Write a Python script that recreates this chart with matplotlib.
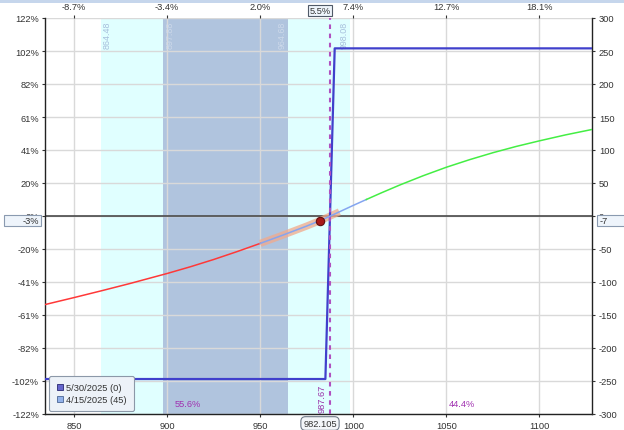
import matplotlib
matplotlib.use('Agg')
import matplotlib.pyplot as plt
import matplotlib.transforms as mtransforms
from matplotlib.patches import Rectangle
from matplotlib.lines import Line2D
import numpy as np

plt.rcParams['font.family'] = ['Liberation Sans', 'DejaVu Sans']

# ---------------- data ----------------
x_ticks = [850, 900, 950, 1000, 1050, 1100]
top_tick_labels = ['-8.7%', '-3.4%', '2.0%', '7.4%', '12.7%', '18.1%']
pnl_ticks = [300, 250, 200, 150, 100, 50, 0, -50, -100, -150, -200, -250, -300]
pct_tick_labels = ['122%', '102%', '82%', '61%', '41%', '20%', '0%',
                   '-20%', '-41%', '-61%', '-82%', '-102%', '-122%']
x_range = [834.4, 1128.2]

sd1_range = [897.88, 964.68]
sd2_range = [864.48, 998.08]

exp_price = [834.4, 985.0, 990.0, 1128.2]
exp_pnl = [-247, -247, 254, 254]

t0_price = [834.4, 850, 865, 880, 900, 912.5, 925, 937.5, 950, 962.5, 975,
            982.105, 987.67, 992.5, 1000, 1007, 1015, 1025, 1037.5, 1050,
            1062.5, 1075, 1087.5, 1100, 1114, 1128.2]
t0_pnl = [-134.2, -123.6, -113.1, -102.3, -87.1, -76.9, -65.9, -54.0, -41.5,
          -28.6, -15.2, -7.0, 0.0, 6.3, 16.1, 25.0, 35.0, 47.0, 61.0, 73.9,
          85.4, 95.9, 105.4, 113.9, 122.9, 131.1]

spot_price = 982.105
spot_pnl = -7
spot_pct_label = '-3%'
spot_move_label = '5.5%'
breakeven = 987.67
prob_below = '55.6%'
prob_above = '44.4%'
band_range = [950, 992.5]
blue_range = [950, 1007]
legend_labels = ['5/30/2025 (0)', '4/15/2025 (45)']

# ---------------- figure ----------------
W, H = 624, 431
fig = plt.figure(figsize=(W / 100, H / 100), dpi=100)
fig.patch.set_facecolor('white')
fig.add_artist(Rectangle((0, 1 - 3.5 / H), 1, 3.5 / H, transform=fig.transFigure,
                         fc='#c6d6ec', ec='none'))

L, R, T, B = 45, 592, 19, 415
ax = fig.add_axes([L / W, 1 - B / H, (R - L) / W, (B - T) / H])
ax.set_xlim(*x_range)
ax.set_ylim(-300, 300)
ax.set_axisbelow(True)
ax.grid(True, color='#d9d9d9', lw=1)

fs = 6.7
tc = '#333333'

# shaded ranges
ax.axvspan(*sd2_range, color='#e0ffff', zorder=0.1, lw=0)
ax.axvspan(*sd1_range, color='#b0c4de', zorder=0.2, lw=0)

# zero line
ax.axhline(0, color='#4a4a4a', lw=1.2, zorder=2)

# expiration line
ax.plot(exp_price, exp_pnl, color='#4040cc', lw=1.6, zorder=4)

# T+0 curve
tx = np.array(t0_price)
ty = np.array(t0_pnl)
m_band = (tx >= band_range[0]) & (tx <= band_range[1])
ax.plot(tx[m_band], ty[m_band], color='#f2a98a', alpha=0.75, lw=5.2,
        solid_capstyle='butt', zorder=3)
m_red = tx <= blue_range[0]
m_blue = (tx >= blue_range[0]) & (tx <= blue_range[1])
m_green = tx >= blue_range[1]
ax.plot(tx[m_red], ty[m_red], color='#ff3838', lw=1.1, zorder=5)
ax.plot(tx[m_blue], ty[m_blue], color='#85a5f0', lw=1.1, zorder=5)
ax.plot(tx[m_green], ty[m_green], color='#44ee44', lw=1.1, zorder=5)

# breakeven dashed line
ax.axvline(breakeven, color='#b050c0', lw=1.5, ls=(0, (2.2, 2.2)), zorder=4.5)
ax.annotate(f'{breakeven:.2f}', xy=(breakeven, -300), xytext=(-2.5, 1.5),
            textcoords='offset points', rotation=90, ha='right', va='bottom',
            color='#9a30a8', fontsize=fs)

# spot dot
ax.plot([spot_price], [spot_pnl], 'o', ms=6, mfc='#a81818', mec='#601010',
        mew=0.8, zorder=6)

# band labels
for v, side, col in [(sd2_range[0], 'l', '#a6bedc'), (sd1_range[0], 'l', '#cdd9ea'),
                     (sd1_range[1], 'r', '#cdd9ea'), (sd2_range[1], 'r', '#a6bedc')]:
    ax.annotate(f'{v:.2f}', xy=(v, 300),
                xytext=(1.5 if side == 'l' else -0.8, -2),
                textcoords='offset points', rotation=90,
                ha='left' if side == 'l' else 'right', va='top',
                color=col, fontsize=fs - 0.3)

# probability labels
ax.text(911, -284, prob_below, color='#a030b0', fontsize=fs, ha='center', va='center')
ax.text(1058.4, -284, prob_above, color='#a030b0', fontsize=fs, ha='center', va='center')

# left axis ticks
ax.set_yticks(pnl_ticks)
ax.set_yticklabels(pct_tick_labels)
ax.set_xticks(x_ticks)
ax.set_xticklabels([str(v) for v in x_ticks])
ax.tick_params(axis='both', labelsize=fs, colors=tc, length=2.5, width=0.8, pad=1.8)
ax.tick_params(axis='x', pad=2.5)
for s in ['left', 'bottom', 'right']:
    ax.spines[s].set_color('#222222')
    ax.spines[s].set_linewidth(1)
ax.spines['top'].set_visible(False)

# right axis
axr = ax.twinx()
axr.set_ylim(-300, 300)
axr.set_yticks(pnl_ticks)
axr.set_yticklabels([str(v) for v in pnl_ticks])
axr.tick_params(axis='y', labelsize=fs, colors=tc, length=2.5, width=0.8, pad=2.5)
for s in axr.spines.values():
    s.set_visible(False)

# top axis
axt = ax.twiny()
axt.set_xlim(*x_range)
axt.set_xticks(x_ticks)
axt.set_xticklabels(top_tick_labels)
axt.tick_params(axis='x', labelsize=fs, colors=tc, length=2.5, width=0.8, pad=2.5)
for s in axt.spines.values():
    s.set_visible(False)

# legend
handles = [Line2D([], [], ls='none', marker='s', ms=5, mfc='#6666cc', mec='#3a3a80', mew=0.7),
           Line2D([], [], ls='none', marker='s', ms=5, mfc='#92b2ea', mec='#5a74a0', mew=0.7)]
leg = ax.legend(handles, legend_labels, loc='lower left',
                bbox_to_anchor=(49 / W, 1 - 412 / H), bbox_transform=fig.transFigure,
                borderaxespad=0, fontsize=fs, frameon=True, fancybox=True,
                borderpad=0.75, handlelength=0.8, handletextpad=0.3, labelspacing=0.3)
leg.get_frame().set_facecolor('#edf2f8')
leg.get_frame().set_edgecolor('#8c98a8')
leg.get_frame().set_alpha(1)
leg.get_frame().set_linewidth(0.8)
for t in leg.get_texts():
    t.set_color(tc)
leg.set_zorder(10)

# value boxes
blend_y = mtransforms.blended_transform_factory(fig.transFigure, ax.transData)
blend_x = mtransforms.blended_transform_factory(ax.transData, fig.transFigure)
box_h = 10.5 / 0.66
fig.add_artist(Rectangle((4 / W, spot_pnl - box_h / 2), 37 / W, box_h, transform=blend_y,
                         fc='#eef4fb', ec='#8a9ab0', lw=0.8, zorder=5))
fig.text(39.5 / W, spot_pnl, spot_pct_label, transform=blend_y, ha='right', va='center',
         fontsize=fs, color=tc, zorder=6)
fig.add_artist(Rectangle((597 / W, spot_pnl - box_h / 2), 40 / W, box_h, transform=blend_y,
                         fc='#eef4fb', ec='#8a9ab0', lw=0.8, zorder=5))
fig.text(599.5 / W, spot_pnl, str(spot_pnl), transform=blend_y, ha='left', va='center',
         fontsize=fs, color=tc, zorder=6)

# top spot box
fig.text(spot_price, 1 - 11.5 / H, spot_move_label, transform=blend_x, ha='center', va='center',
         fontsize=fs, color=tc, zorder=6,
         bbox=dict(boxstyle='square,pad=0.15', fc='#eef4fb', ec='#505a68', lw=0.8))
# bottom spot box
fig.text(spot_price, 1 - 424.5 / H, f'{spot_price:.3f}', transform=blend_x, ha='center',
         va='center', fontsize=fs, color=tc, zorder=6,
         bbox=dict(boxstyle='round,pad=0.25,rounding_size=0.5', fc='#f4f6f9', ec='#707a88', lw=0.8))

fig.savefig('out.png', dpi=100)
